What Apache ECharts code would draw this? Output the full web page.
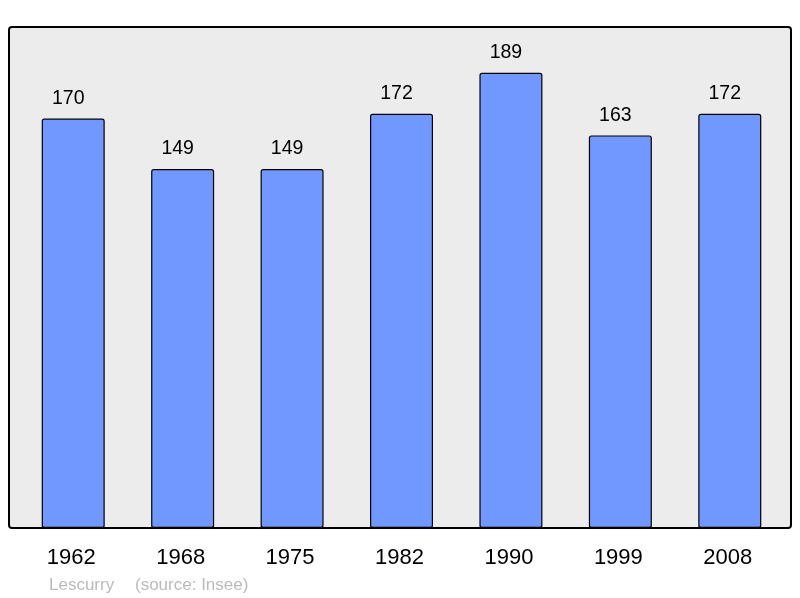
<!DOCTYPE html>
<html><head><meta charset="utf-8">
<script src="https://cdn.jsdelivr.net/npm/echarts@6/dist/echarts.min.js"></script>
<style>html,body{margin:0;padding:0;background:#fff}#c{width:800px;height:598px}</style>
</head><body><div id="c"></div>
<script>
const years = ['1962','1968','1975','1982','1990','1999','2008'];
const population = [170,149,149,172,189,163,172];
const footerName = 'Lescurry';
const footerSource = '(source: Insee)';

const chart = echarts.init(document.getElementById('c'), null, {renderer:'canvas'});
chart.setOption({
  animation:false,
  backgroundColor:'#ffffff',
  textStyle:{fontFamily:'Liberation Sans, Arial, sans-serif'},
  graphic:[
    {type:'rect', z:-10, shape:{x:9, y:27, width:782, height:501, r:3},
     style:{fill:'#ececec', stroke:'#000', lineWidth:2}},
    {type:'text', left:49, top:577, style:{text:footerName, fill:'#bbbbbb', font:'17px "Liberation Sans", Arial, sans-serif'}},
    {type:'text', left:135, top:577, style:{text:footerSource, fill:'#bbbbbb', font:'17px "Liberation Sans", Arial, sans-serif'}}
  ],
  grid:{left:18.5, right:15.5, top:27, bottom:70},
  xAxis:{type:'category', data:years,
    axisLine:{show:false}, axisTick:{show:false},
    axisLabel:{color:'#000', fontSize:22, margin:19, padding:[0,4,0,0], fontFamily:'Liberation Sans'}},
  yAxis:{type:'value', min:0, max:208, show:false, splitLine:{show:false}},
  series:[{type:'bar', data:population, barWidth:63,
    itemStyle:{color:'#7098ff', borderColor:'#000', borderWidth:1.2, borderRadius:2},
    label:{show:true, position:'top', distance:10, offset:[-5,0], color:'#000', fontSize:19.5, fontFamily:'Liberation Sans'}
  }]
});
</script></body></html>
